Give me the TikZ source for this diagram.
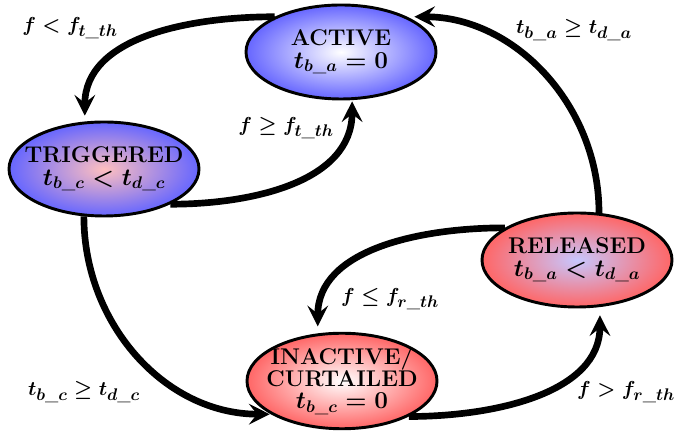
\documentclass[tikz,border=0pt]{standalone}
\usepackage{amsmath}
\usepackage{tikz}
\usetikzlibrary{shapes.geometric,arrows.meta}

\begin{document}
\begin{tikzpicture}[
  x=0.03cm, y=0.03cm,
  every node/.style={font=\fontsize{19}{19}\selectfont\bfseries\boldmath},
  statebox/.style={
    ellipse, draw=black, line width=2.5pt,
    minimum width=5.7cm, minimum height=2.82cm,
    inner xsep=-0.6cm, inner ysep=0pt,
    align=center,
    font=\fontsize{19.4}{19}\selectfont\bfseries\boldmath,
    shading=radial,
  },
  trans/.style={
    line width=0.2cm,
    -{Stealth[length=0.62cm, width=0.62cm, inset=0.24cm]},
  },
  cond/.style={inner sep=1pt},
]

\useasboundingbox (0,0) rectangle (677,431);

% ----- the four states -----
\node[statebox, inner color=white, outer color=blue!60] (act) at (341,379)
  {ACTIVE\\$t_{b\_a}=0$};
\node[statebox, inner color=red!25, outer color=blue!60] (trg) at (104,262)
  {TRIGGERED\\$t_{b\_c}<t_{d\_c}$};
\node[statebox, inner color=blue!22, outer color=red!60] (rel) at (577,171)
  {RELEASED\\$t_{b\_a}<t_{d\_a}$};
\node[statebox, inner color=white, outer color=red!60] (ina) at (342,50)
  {INACTIVE/\\CURTAILED\\$t_{b\_c}=0$};

% ----- transitions -----
\draw[trans, shorten >=5pt] (act.152) to[out=180, in=90] (trg.112);
\draw[trans, shorten >=1pt] (trg.-28) to[out=0, in=-90] (act.-77);
\draw[trans, shorten >=6pt] (rel.65) to[out=90, in=0] (act.28);
\draw[trans, shorten >=1pt] (trg.247) to[out=-90, in=180] (ina.205);
\draw[trans, shorten >=6pt] (rel.156) to[out=180, in=90] (ina.117);
\draw[trans, shorten >=7pt] (ina.-28) to[out=0, in=-90] (rel.-64);

% ----- transition conditions -----
\node[cond] (c1) at (70,403) {$f<f_{t\_th}$};
\node[cond] (c2) at (286,303) {$f\geq f_{t\_th}$};
\node[cond] (c3) at (574,401) {$t_{b\_a}\geq t_{d\_a}$};
\node[cond] (c4) at (84,39) {$t_{b\_c}\geq t_{d\_c}$};
\node[cond] (c5) at (390,132) {$f\leq f_{r\_th}$};
\node[cond] (c6) at (626,39) {$f>f_{r\_th}$};

\end{tikzpicture}
\end{document}
